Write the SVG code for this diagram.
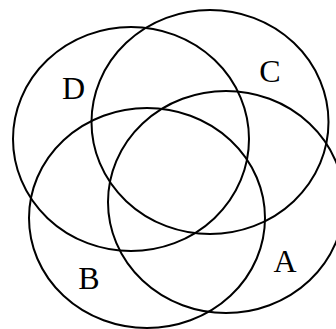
<svg xmlns="http://www.w3.org/2000/svg" width="336" height="329" viewBox="0 0 336 329">
<style>
.set{fill:none;stroke:#000;stroke-width:2}
.lbl{font-family:"Liberation Serif","Times New Roman",serif;font-size:32px;text-anchor:middle;fill:#000}
</style>
<rect width="336" height="329" fill="#fff"/>
<g id="D"><ellipse class="set" cx="131" cy="139" rx="118" ry="112"/><text class="lbl" x="73.5" y="98.5">D</text></g>
<g id="C"><ellipse class="set" cx="210" cy="122" rx="118.5" ry="112"/><text class="lbl" x="270" y="82.3">C</text></g>
<g id="B"><ellipse class="set" cx="147" cy="218" rx="118" ry="110"/><text class="lbl" x="88.8" y="289">B</text></g>
<g id="A"><ellipse class="set" cx="226" cy="202" rx="118" ry="111"/><text class="lbl" x="285" y="272.3">A</text></g>
</svg>
